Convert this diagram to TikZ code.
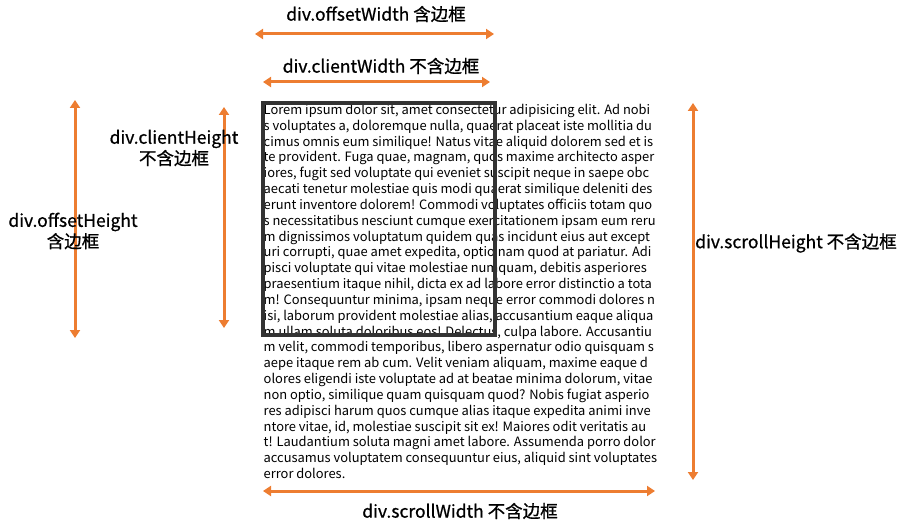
\documentclass[tikz,border=0pt]{standalone}
\usepackage{fontspec}
\setmainfont{Noto Sans CJK SC}
\newfontfamily\lblfont[FakeBold=0.8]{Noto Sans CJK SC}
\usetikzlibrary{arrows.meta}
\definecolor{arrorange}{HTML}{ED7D31}
\definecolor{boxgray}{HTML}{333333}
\tikzset{
  dim/.style={draw=arrorange, line width=3pt, {Triangle[width=10pt,length=8pt]}-{Triangle[width=10pt,length=8pt]}},
  lbl/.style={font=\lblfont\fontsize{17.5}{21}\selectfont, text=black, inner sep=0pt, align=center},
  body/.style={font=\fontsize{12.9}{15.83}\selectfont, align=left, inner sep=0pt, anchor=north west}
}
\begin{document}
\begin{tikzpicture}[x=1pt,y=-1pt]
\useasboundingbox (0,0) rectangle (910,532);
% content text
\node[body] (content) at (263.5,104) {Lorem ipsum dolor sit, amet consectetur adipisicing elit. Ad nobi\\
s voluptates a, doloremque nulla, quaerat placeat iste mollitia du\\
cimus omnis eum similique! Natus vitae aliquid dolorem sed et is\\
te provident. Fuga quae, magnam, quos maxime architecto asper\\
iores, fugit sed voluptate qui eveniet suscipit neque in saepe obc\\
aecati tenetur molestiae quis modi quaerat similique deleniti des\\
erunt inventore dolorem! Commodi voluptates officiis totam quo\\
s necessitatibus nesciunt cumque exercitationem ipsam eum reru\\
m dignissimos voluptatum quidem quas incidunt eius aut except\\
uri corrupti, quae amet expedita, optio nam quod at pariatur. Adi\\
pisci voluptate qui vitae molestiae numquam, debitis asperiores\\
praesentium itaque nihil, dicta ex ad labore error distinctio a tota\\
m! Consequuntur minima, ipsam neque error commodi dolores n\\
isi, laborum provident molestiae alias, accusantium eaque aliqua\\
m ullam soluta doloribus eos! Delectus, culpa labore. Accusantiu\\
m velit, commodi temporibus, libero aspernatur odio quisquam s\\
aepe itaque rem ab cum. Velit veniam aliquam, maxime eaque d\\
olores eligendi iste voluptate ad at beatae minima dolorum, vitae\\
non optio, similique quam quisquam quod? Nobis fugiat asperio\\
res adipisci harum quos cumque alias itaque expedita animi inve\\
ntore vitae, id, molestiae suscipit sit ex! Maiores odit veritatis au\\
t! Laudantium soluta magni amet labore. Assumenda porro dolor\\
accusamus voluptatem consequuntur eius, aliquid sint voluptates\\
error dolores.};
% the div box
\node[draw=boxgray, line width=3.6pt, minimum width=232pt, minimum height=232pt, inner sep=0pt, anchor=north west] (box) at (261,101) {};
% coordinates for arrow ends
\coordinate (ow1) at (255,34);  \coordinate (ow2) at (494,34);
\coordinate (cw1) at (263,82);  \coordinate (cw2) at (490,82);
\coordinate (ch1) at (224,107); \coordinate (ch2) at (224,328);
\coordinate (oh1) at (75,100);  \coordinate (oh2) at (75,338);
\coordinate (sh1) at (693,103); \coordinate (sh2) at (693,480);
\coordinate (sw1) at (263,491); \coordinate (sw2) at (655,491);
\draw[dim] (ow1) -- (ow2);
\draw[dim] (cw1) -- (cw2);
\draw[dim] (ch1) -- (ch2);
\draw[dim] (oh1) -- (oh2);
\draw[dim] (sh1) -- (sh2);
\draw[dim] (sw1) -- (sw2);
% labels
\node[lbl] (low) at (376,14) {div.offsetWidth 含边框};
\node[lbl] (lcw) at (381,66) {div.clientWidth 不含边框};
\node[lbl] (lch) at (174,148) {div.clientHeight\\不含边框};
\node[lbl] (loh) at (73,231) {div.offsetHeight\\含边框};
\node[lbl, anchor=west] (lsh) at (695,243) {div.scrollHeight 不含边框};
\node[lbl] (lsw) at (460,511) {div.scrollWidth 不含边框};
\end{tikzpicture}
\end{document}
